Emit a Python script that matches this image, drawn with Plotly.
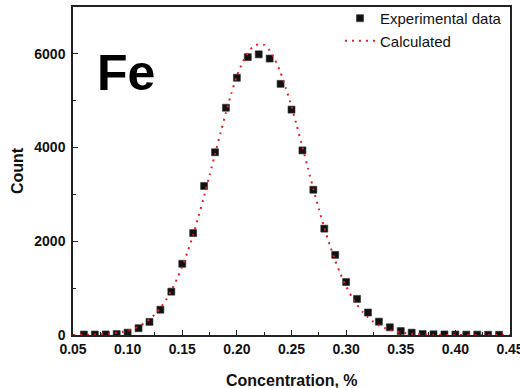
import plotly.graph_objects as go

# Measured histogram of Fe concentration
exp_conc = [0.06, 0.07, 0.08, 0.09, 0.10, 0.11, 0.12, 0.13, 0.14, 0.15,
            0.16, 0.17, 0.18, 0.19, 0.20, 0.21, 0.22, 0.23, 0.24, 0.25,
            0.26, 0.27, 0.28, 0.29, 0.30, 0.31, 0.32, 0.33, 0.34, 0.35,
            0.36, 0.37, 0.38, 0.39, 0.40, 0.41, 0.42, 0.43, 0.44]
exp_count = [10, 10, 12, 20, 50, 145, 280, 540, 925, 1520,
             2175, 3180, 3900, 4850, 5490, 5930, 5990, 5900, 5360, 4810,
             3940, 3100, 2270, 1710, 1130, 770, 480, 285, 165, 85,
             50, 20, 15, 12, 10, 8, 8, 6, 6]

# Calculated distribution
calc_conc = [0.05, 0.06, 0.07, 0.08, 0.09, 0.095, 0.10, 0.105, 0.11, 0.115,
             0.12, 0.125, 0.13, 0.135, 0.14, 0.145, 0.15, 0.155, 0.16, 0.165,
             0.17, 0.175, 0.18, 0.185, 0.19, 0.195, 0.20, 0.205, 0.21, 0.215,
             0.22, 0.225, 0.23, 0.235, 0.24, 0.245, 0.25, 0.255, 0.26, 0.265,
             0.27, 0.275, 0.28, 0.285, 0.29, 0.295, 0.30, 0.305, 0.31, 0.315,
             0.32, 0.325, 0.33, 0.335, 0.34, 0.35, 0.36, 0.37, 0.38, 0.39,
             0.40, 0.42, 0.45]
calc_count = [2, 4, 9, 21, 46, 66, 94, 132, 183, 249,
              335, 444, 580, 747, 949, 1187, 1466, 1783, 2140, 2540,
              2960, 3410, 3860, 4310, 4750, 5160, 5530, 5810, 6020, 6160,
              6205, 6190, 6070, 5870, 5600, 5260, 4875, 4455, 4012, 3563,
              3119, 2692, 2290, 1921, 1588, 1294, 1039, 823, 643, 495,
              376, 281, 207, 151, 108, 53, 25, 11, 5, 2,
              1, 0, 0]

x_ticks = [0.05, 0.10, 0.15, 0.20, 0.25, 0.30, 0.35, 0.40, 0.45]
x_labels = ["0.05", "0.10", "0.15", "0.20", "0.25", "0.30", "0.35", "0.40", "0.45"]
y_ticks = [0, 2000, 4000, 6000]

FONT = "Liberation Sans, Arial, sans-serif"
RED = "#e3202a"
INK = "#111111"

fig = go.Figure()
fig.add_trace(go.Scatter(
    x=exp_conc, y=exp_count, mode="markers", name="Experimental data",
    marker=dict(symbol="square", size=7, color=INK,
                line=dict(width=0.6, color="#333333")),
))
fig.add_trace(go.Scatter(
    x=calc_conc, y=calc_count, mode="lines", name="Calculated",
    line=dict(color=RED, width=2, dash="2px,5px", shape="spline", smoothing=0.6),
))

# Element label and axis titles
fig.add_annotation(
    text="<b>Fe</b>", xref="paper", yref="paper", x=0.121, y=0.80,
    xanchor="center", yanchor="middle", showarrow=False,
    font=dict(family=FONT, size=50, color="black"),
)
fig.add_annotation(
    text="<b>Concentration, %</b>", xref="paper", yref="paper",
    x=0.5, y=-0.14, xanchor="center", yanchor="middle", showarrow=False,
    font=dict(family=FONT, size=16, color=INK),
)
fig.add_annotation(
    text="<b>Count</b>", xref="paper", yref="paper", textangle=-90,
    x=-0.128, y=0.5, xanchor="center", yanchor="middle", showarrow=False,
    font=dict(family=FONT, size=16, color=INK),
)

axis_common = dict(
    showgrid=False, zeroline=False, showline=True, mirror=True,
    linecolor="#222222", linewidth=1.5, ticks="inside", ticklen=5,
    tickwidth=1.3, tickcolor="#222222", automargin=False,
    tickfont=dict(family=FONT, size=14, color=INK, weight="bold"),
    ticklabeloverflow="allow",
)

fig.update_xaxes(
    range=[0.05, 0.45], tickvals=x_ticks, ticktext=x_labels,
    minor=dict(dtick=0.025, tick0=0.05, ticks="inside", ticklen=3,
               tickcolor="#222222", tickwidth=1.2),
    **axis_common,
)
fig.update_yaxes(
    range=[0, 7000], tickvals=y_ticks, ticklabelstandoff=3,
    minor=dict(dtick=1000, tick0=0, ticks="inside", ticklen=3,
               tickcolor="#222222", tickwidth=1.2),
    **axis_common,
)

fig.update_layout(
    width=520, height=388,
    margin=dict(l=73, r=10, t=7, b=53, autoexpand=False),
    paper_bgcolor="white", plot_bgcolor="white",
    showlegend=True,
    legend=dict(x=0.611, y=0.995, xanchor="left", yanchor="top",
                xref="paper", yref="container",
                bgcolor="rgba(0,0,0,0)", borderwidth=0,
                font=dict(family=FONT, size=15, color=INK),
                tracegroupgap=0),
)

fig.write_html("out.html")
